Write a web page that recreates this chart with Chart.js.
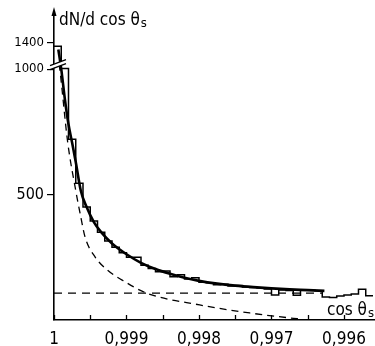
<!DOCTYPE html>
<html>
<head>
<meta charset="utf-8">
<script src="https://cdn.jsdelivr.net/npm/chart.js@4.4.1/dist/chart.umd.min.js"></script>
<style>
  html, body { margin: 0; padding: 0; background: #fff; }
</style>
</head>
<body>
<canvas id="canvas" width="375" height="346"></canvas>
<script>
// histogram: bins of width 0.0001 in cos(theta_s), starting at 1
const BIN_FIRST = 1.0;
const BIN_WIDTH = 0.0001;
const binCounts = [1350, 1010, 720, 545, 450, 395, 350, 315, 290, 268,
                   250, 250, 218, 205, 192, 195, 172, 180, 163, 168,
                   150, 148, 140, 142, 136, 138, 132, 130, 128, 124,
                   100, 120, 118, 99, 119, 119, 117, 92, 90, 96,
                   100, 104, 123, 97];

// fitted total curve
const fitCos = [0.99994, 0.99990, 0.99985, 0.99980, 0.99975, 0.99970, 0.99963, 0.99955,
                0.99945, 0.99935, 0.99920, 0.99900, 0.99880, 0.99860, 0.99840, 0.99820,
                0.99800, 0.99775, 0.99750, 0.99725, 0.99700, 0.99675, 0.99650, 0.99627];
const fitValues = [1300, 1000, 880, 780, 706, 630, 515, 450,
                   390, 350, 305, 262, 228, 203, 184, 168,
                   156, 145, 137, 131, 126, 122, 119, 116];

// signal part (dashed)
const sigCos = [0.99993, 0.99992, 0.99981, 0.99970, 0.99964, 0.99957, 0.99943,
                0.99926, 0.99906, 0.99872, 0.99799, 0.99730, 0.99674, 0.99660];
const sigValues = [1080, 1000, 706, 516, 425, 329, 250,
                   198, 159, 107, 60, 28, 8, 4];

// flat background (dashed)
const bgCos = [1.0, 0.99630];
const bgValues = [107, 107];

const xTicks = [1.0, 0.9995, 0.999, 0.9985, 0.998, 0.9975, 0.997, 0.9965, 0.996];
const yTicks = [500, 1000, 1400];

const BREAK_AT = 1000;
const BREAK_SQUASH = 0.26; // scale above the break
const Y_TOP = 1860;
const X_MIN = 0.995586;

const FONT = "'Liberation Sans Narrow', 'DejaVu Sans Condensed', sans-serif";

function squash(v) {
    return v > BREAK_AT ? BREAK_AT + (v - BREAK_AT) * BREAK_SQUASH : v;
}

// linear scale with a compressed part above the axis break
class BrokenLinearScale extends Chart.LinearScale {
    getPixelForValue(value) {
        if (value === null || value === undefined) return NaN;
        return super.getPixelForValue(squash(value));
    }
}
BrokenLinearScale.id = 'brokenLinear';
BrokenLinearScale.defaults = Chart.LinearScale.defaults;
Chart.register(BrokenLinearScale);

const histPoints = binCounts.map((c, i) => ({ x: BIN_FIRST - i * BIN_WIDTH, y: c }));
histPoints.push({ x: BIN_FIRST - binCounts.length * BIN_WIDTH, y: binCounts[binCounts.length - 1] });

const toXY = (xs, ys) => xs.map((x, i) => ({ x: x, y: ys[i] }));

const decorations = {
    id: 'decorations',
    afterDraw(chart) {
        const ctx = chart.ctx;
        const xs = chart.scales.x;
        const ys = chart.scales.y;
        const area = chart.chartArea;
        ctx.save();
        ctx.strokeStyle = '#000';
        ctx.fillStyle = '#000';

        // inward tick marks on the x axis
        ctx.lineWidth = 1.3;
        xTicks.forEach(v => {
            const px = Math.round(xs.getPixelForValue(v)) + 0.5;
            ctx.beginPath();
            ctx.moveTo(px, area.bottom);
            ctx.lineTo(px, area.bottom - 5);
            ctx.stroke();
        });

        // arrow at top of y axis
        const ax = area.left;
        ctx.beginPath();
        ctx.moveTo(ax, area.top - 6);
        ctx.lineTo(ax - 2.5, area.top + 3);
        ctx.lineTo(ax + 2.5, area.top + 3);
        ctx.closePath();
        ctx.fill();

        // axis break //, cutting axis and histogram
        const by = ys.getPixelForValue(BREAK_AT) - 8;
        ctx.fillStyle = '#fff';
        ctx.beginPath();
        ctx.moveTo(ax - 3, by + 4);
        ctx.lineTo(ax + 11, by - 1);
        ctx.lineTo(ax + 11, by + 3);
        ctx.lineTo(ax - 3, by + 8);
        ctx.closePath();
        ctx.fill();
        ctx.lineWidth = 1.3;
        ctx.beginPath();
        ctx.moveTo(ax - 4, by + 4.5);
        ctx.lineTo(ax + 12, by - 1.5);
        ctx.moveTo(ax - 4, by + 8.5);
        ctx.lineTo(ax + 12, by + 2.5);
        ctx.stroke();

        // axis titles
        ctx.fillStyle = '#000';
        ctx.textBaseline = 'alphabetic';
        ctx.textAlign = 'left';
        ctx.font = '17px ' + FONT;
        const t1 = 'dN/d cos θ';
        ctx.fillText(t1, 59, 25);
        const w1 = ctx.measureText(t1).width;
        ctx.font = '13px ' + FONT;
        ctx.fillText('s', 59 + w1 + 1, 27);

        ctx.font = '17px ' + FONT;
        const t2 = 'cos θ';
        ctx.fillText(t2, 327, 315);
        const w2 = ctx.measureText(t2).width;
        ctx.font = '13px ' + FONT;
        ctx.fillText('s', 327 + w2 + 1, 317);
        ctx.restore();
    }
};

const ctx = document.getElementById('canvas').getContext('2d');

new Chart(ctx, {
    type: 'line',
    data: {
        datasets: [
            {
                data: histPoints,
                stepped: true,
                borderColor: '#000',
                borderWidth: 1.5,
                pointRadius: 0,
                fill: false
            },
            {
                data: toXY(fitCos, fitValues),
                borderColor: '#000',
                borderWidth: 2.6,
                pointRadius: 0,
                cubicInterpolationMode: 'monotone',
                fill: false
            },
            {
                data: toXY(sigCos, sigValues),
                borderColor: '#000',
                borderWidth: 1.3,
                borderDash: [7, 5],
                pointRadius: 0,
                cubicInterpolationMode: 'monotone',
                fill: false
            },
            {
                data: toXY(bgCos, bgValues),
                borderColor: '#000',
                borderWidth: 1.3,
                borderDash: [8, 6],
                pointRadius: 0,
                fill: false
            }
        ]
    },
    options: {
        responsive: false,
        devicePixelRatio: 1,
        animation: false,
        layout: {
            padding: { top: 13, right: 1, left: 0, bottom: 0 }
        },
        plugins: {
            legend: { display: false },
            tooltip: { enabled: false }
        },
        scales: {
            x: {
                type: 'linear',
                reverse: true,
                min: X_MIN,
                max: 1.0,
                afterBuildTicks: scale => {
                    scale.ticks = xTicks.map(v => ({ value: v }));
                },
                afterFit: scale => { scale.height = 26; },
                grid: { display: false, drawTicks: false },
                border: { display: true, color: '#000', width: 1.6 },
                ticks: {
                    padding: 9,
                    autoSkip: false,
                    maxRotation: 0,
                    color: '#000',
                    font: { family: FONT, size: 17 },
                    callback: v => {
                        if (Math.round(v * 10000) % 10 !== 0) return '';
                        if (v === 1) return '1';
                        return v.toFixed(3).replace('.', ',');
                    }
                }
            },
            y: {
                type: 'brokenLinear',
                min: 0,
                max: squash(Y_TOP),
                afterBuildTicks: scale => {
                    scale.ticks = yTicks.map(v => ({ value: v }));
                },
                afterFit: scale => { scale.width = 54; },
                grid: {
                    display: true,
                    drawOnChartArea: false,
                    drawTicks: true,
                    tickLength: 7,
                    color: '#000',
                    lineWidth: 1.2
                },
                border: { display: true, color: '#000', width: 1.6 },
                ticks: {
                    padding: 3,
                    autoSkip: false,
                    color: '#000',
                    font: c => ({ family: FONT, size: c.tick && c.tick.value === 500 ? 16 : 13 }),
                    callback: v => String(v)
                }
            }
        }
    },
    plugins: [decorations]
});
</script>
</body>
</html>
